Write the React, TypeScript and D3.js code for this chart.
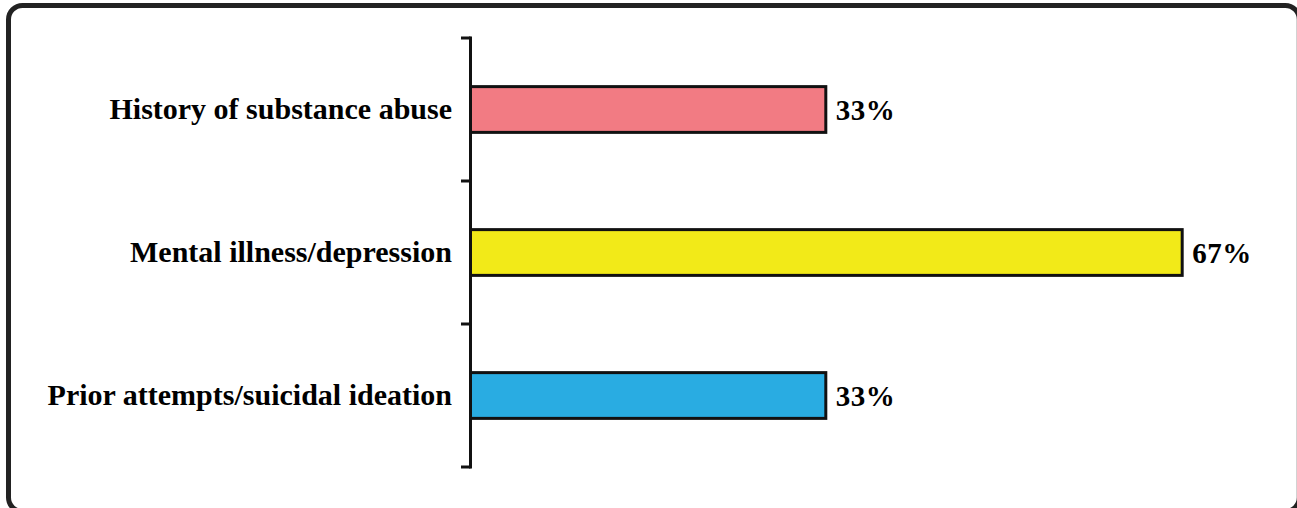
import React from "react";
import * as d3 from "d3";

const categories = [
  "History of substance abuse",
  "Mental illness/depression",
  "Prior attempts/suicidal ideation",
];
const values = [33.3, 66.7, 33.3];
const valueLabels = ["33%", "67%", "33%"];
const colors = ["#F27B83", "#F2EA18", "#29ACE2"];

const W = 1297;
const H = 508;

export default function App() {
  const axisX = 470.5;
  const y = d3.scaleBand<string>().domain(categories).range([38, 467]).padding(0);
  const x = d3.scaleLinear().domain([0, 100]).range([axisX, axisX + 1067]);
  const barH = y.bandwidth() * 0.32;
  const tickYs = [...categories.map((c) => y(c) as number), y.range()[1]];
  const font = "'Liberation Serif', 'Times New Roman', serif";

  return (
    <svg
      width={W}
      height={H}
      style={{ position: "absolute", left: 0, top: 0, background: "#fff" }}
    >
      <rect
        x={8.5}
        y={5.5}
        width={1290.8}
        height={506}
        rx={14}
        ry={14}
        fill="#fff"
        stroke="#222"
        strokeWidth={5}
      />
      {categories.map((c, i) => {
        const cy = (y(c) as number) + y.bandwidth() / 2;
        return (
          <g key={c}>
            <rect
              x={x(0)}
              y={cy - barH / 2}
              width={x(values[i]) - x(0)}
              height={barH}
              fill={colors[i]}
              stroke="#111"
              strokeWidth={3}
            />
            <text
              x={452}
              y={cy}
              dy="0.33em"
              textAnchor="end"
              fontFamily={font}
              fontWeight="bold"
              fontSize={30}
              fill="#000"
            >
              {c}
            </text>
            <text
              x={x(values[i]) + 10}
              y={cy}
              dy="0.35em"
              fontFamily={font}
              fontWeight="bold"
              fontSize={29}
              letterSpacing={0.5}
              fill="#000"
            >
              {valueLabels[i]}
            </text>
          </g>
        );
      })}
      <line
        x1={axisX}
        x2={axisX}
        y1={tickYs[0] - 1.5}
        y2={tickYs[tickYs.length - 1] + 1.5}
        stroke="#111"
        strokeWidth={3}
      />
      {tickYs.map((ty, i) => (
        <line key={i} x1={461} x2={axisX} y1={ty} y2={ty} stroke="#111" strokeWidth={3} />
      ))}
    </svg>
  );
}
